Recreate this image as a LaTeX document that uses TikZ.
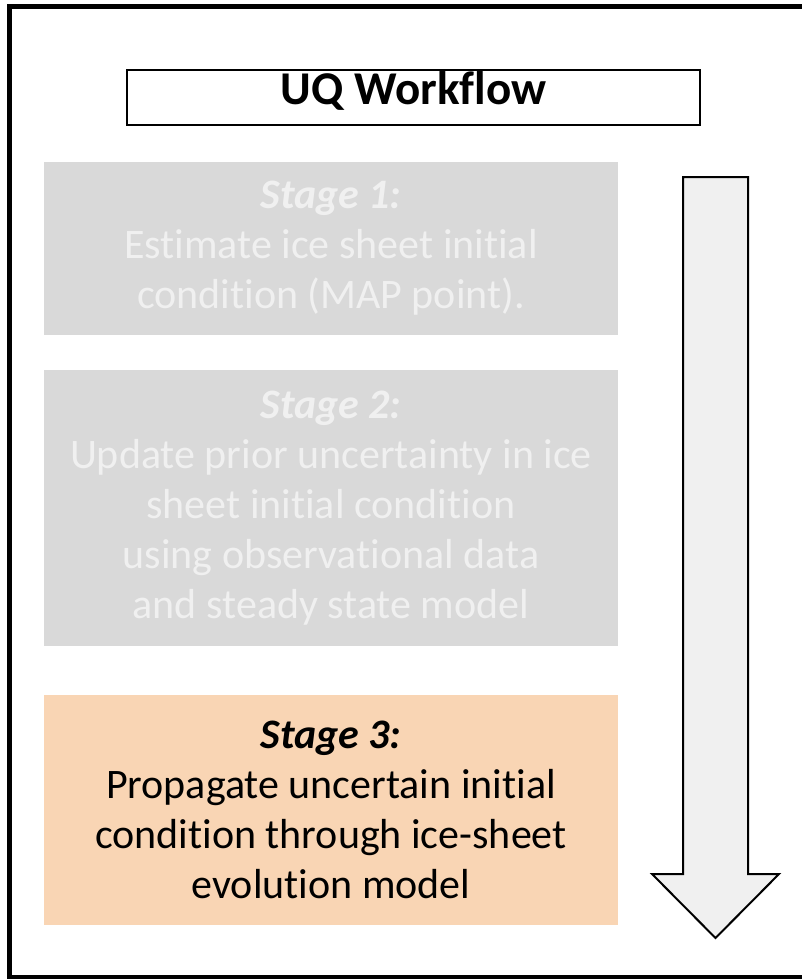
\documentclass[tikz,border=0pt]{standalone}
\usepackage{fontspec}
\setmainfont[Ligatures=NoCommon]{Carlito}
\definecolor{boxgrey}{HTML}{D9D9D9}
\definecolor{txtgrey}{HTML}{F0F0F0}
\definecolor{peach}{HTML}{F9D5B4}
\definecolor{arrowfill}{HTML}{F0F0F0}
\tikzset{
  stagebox/.style={rectangle, minimum width=574pt, inner sep=0pt, align=center,
    font=\fontsize{42pt}{50pt}\selectfont},
  greystage/.style={stagebox, fill=boxgrey, text=txtgrey},
  activestage/.style={stagebox, fill=peach, text=black},
  titlebox/.style={rectangle, draw=black, line width=1.5pt, minimum width=573pt, minimum height=55pt,
    inner sep=0pt, text height=29pt, text depth=15pt, font=\fontsize{47pt}{50pt}\selectfont\bfseries},
  frame/.style={draw=black, line width=5pt},
  bigarrow/.style={draw=black, line width=2pt, fill=arrowfill, line join=miter}
}
\begin{document}
\begin{tikzpicture}[x=1pt,y=-1pt]
\useasboundingbox (0,0) rectangle (802,979);
\clip (0,0) rectangle (802,979);
\fill[white] (0,0) rectangle (802,979);
\draw[frame] (9.5,6.5) rectangle (830,977.5);
\node[titlebox] (title) at (413.5,97.5) {UQ Workflow};
\node[greystage, minimum height=173pt] (s1) at (331,248.5) {\textbf{\itshape Stage 1:}\\Estimate ice sheet initial\\condition (MAP point).};
\node[greystage, minimum height=276pt] (s2) at (331,508) {\textbf{\itshape Stage 2:}\\Update prior uncertainty in ice\\sheet initial condition\\using observational data\\and steady state model};
\node[activestage, minimum height=230pt] (s3) at (331,810) {\textbf{\itshape Stage 3:}\\Propagate uncertain initial\\condition through ice-sheet\\evolution model};
\coordinate (atip) at (715.5,938);
\draw[bigarrow] (683,177) -- (748,177) -- (748,874) -- (779,874) -- (atip) -- (652,874) -- (683,874) -- cycle;
\end{tikzpicture}
\end{document}
